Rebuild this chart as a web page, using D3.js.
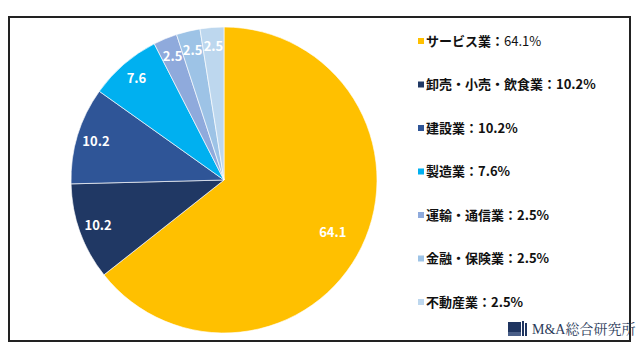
<!DOCTYPE html>
<html><head><meta charset="utf-8">
<script src="https://cdn.jsdelivr.net/npm/d3@7"></script>
<style>
html,body{margin:0;padding:0;background:#fff;}
svg{display:block;font-family:"Noto Sans CJK JP","Noto Sans",sans-serif;}
</style></head>
<body>
<svg id="c" width="640" height="360"></svg>
<script>
const categories = ["サービス業","卸売・小売・飲食業","建設業","製造業","運輸・通信業","金融・保険業","不動産業"];
const values = [64.1, 10.2, 10.2, 7.6, 2.5, 2.5, 2.5];
const colors = ["#FFC000","#203864","#2F5597","#00B0F0","#8FAADC","#9DC3E6","#BDD7EE"];

const svg = d3.select("#c");
// frame
svg.append("rect").attr("x",9).attr("y",17).attr("width",621).attr("height",324)
  .attr("fill","#fff").attr("stroke","#222").attr("stroke-width",2);

const cx = 224, cy = 180, R = 153;
const data = categories.map((c,i)=>({cat:c, value:values[i], color:colors[i]}));
const pie = d3.pie().value(d=>d.value).sort(null);
const arcs = pie(data);
const arc = d3.arc().innerRadius(0).outerRadius(R);
const g = svg.append("g").attr("transform",`translate(${cx},${cy})`);
g.selectAll("path").data(arcs).join("path")
  .attr("d",arc).attr("fill",d=>d.data.color)
  .attr("stroke","#fff").attr("stroke-width",0.8).attr("stroke-opacity",0.8);

g.selectAll("text.lbl").data(arcs).join("text").attr("class","lbl")
  .attr("transform",d=>{
    const rr = d.data.value > 50 ? R*0.79 : R*0.875;
    const a = (d.startAngle + d.endAngle)/2;
    return `translate(${Math.sin(a)*rr},${-Math.cos(a)*rr})`;
  })
  .attr("text-anchor","middle").attr("dy","0.36em")
  .attr("fill","#fff").attr("font-size",13).attr("font-weight",700)
  .text(d=>d3.format(".1f")(d.data.value));

// legend
const legend = svg.append("g");
const ly = d3.scalePoint().domain(categories).range([41,302]);
const items = legend.selectAll("g").data(data).join("g")
  .attr("transform",d=>`translate(418,${ly(d.cat)})`);
items.append("rect").attr("x",0).attr("y",-3).attr("width",6).attr("height",6).attr("fill",d=>d.color);
items.append("text").attr("x",8).attr("dy","0.36em").attr("font-size",13).attr("fill","#111")
  .each(function(d,i){
    const t = d3.select(this);
    t.append("tspan").attr("font-weight",700).text(d.cat + "：");
    t.append("tspan").attr("font-weight", i===0 ? 400 : 700).text(d3.format(".1f")(d.value)+"%");
  });

// logo
const logo = svg.append("g").attr("transform","translate(508,321)");
logo.append("rect").attr("x",0).attr("y",1).attr("width",13).attr("height",10).attr("fill","#1f3560");
logo.append("rect").attr("x",0).attr("y",11).attr("width",13).attr("height",4).attr("fill","#4a5f88");
logo.append("rect").attr("x",14).attr("y",0).attr("width",2).attr("height",15).attr("fill","#1f3560");
logo.append("rect").attr("x",17).attr("y",2).attr("width",2).attr("height",13).attr("fill","#1f3560");
svg.append("text").attr("x",532).attr("y",334).attr("font-size",14)
  .attr("font-family","'Liberation Serif','Noto Serif CJK JP','Noto Sans CJK JP',serif")
  .attr("fill","#2b3a5a").text("M&A総合研究所");
</script>
</body></html>
